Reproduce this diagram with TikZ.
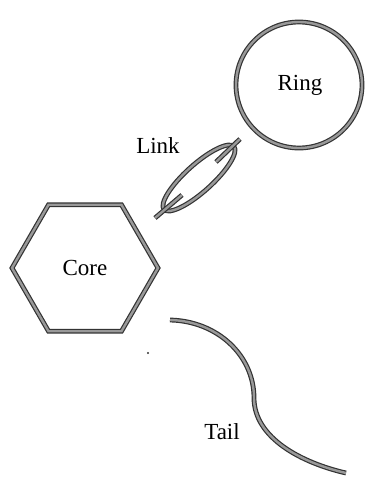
\documentclass[tikz,border=0pt]{standalone}
\usepackage{fontspec}
\setmainfont{Liberation Serif}
\usetikzlibrary{shapes.geometric}
\begin{document}
\begin{tikzpicture}[x=1pt,y=-1pt,
  stroke/.style={draw=black!80, double=gray!80, double distance=2.4pt, line width=1.2pt},
  lbl/.style={font=\fontsize{23}{26}\selectfont, inner sep=0pt}]
\useasboundingbox (0,0) rectangle (382,491);
% Core hexagon
\node[regular polygon, regular polygon sides=6, minimum size=146pt, inner sep=0pt, stroke] (core) at (85,268) {};
\node[lbl] (coretxt) at (85,268) {Core};
% Ring
\node[circle, minimum size=126pt, inner sep=0pt, stroke] (ring) at (299,85) {};
\node[lbl] (ringtxt) at (300,85) {Ring};
% Link ellipse
\node[ellipse, minimum width=94pt, minimum height=27pt, inner sep=0pt, rotate=42, stroke] (link) at (199,178) {};
\node[lbl] (linktxt) at (158,146) {Link};
\coordinate (l1) at (155,218);
\coordinate (l2) at (182,195);
\coordinate (l3) at (216,162);
\coordinate (l4) at (240,139);
\draw[stroke] (l1) -- (l2);
\draw[stroke] (l4) -- (l3);
% Tail
\coordinate (t1) at (170,320);
\coordinate (t2) at (254,398);
\coordinate (t3) at (346,473);
\draw[stroke] (t1) .. controls (217,321) and (254,355) .. (t2) .. controls (254,438) and (302,463) .. (t3);
\node[lbl] (tailtxt) at (222,432) {Tail};
% speck
\fill[black!80] (148,353) circle (1.2pt);
\end{tikzpicture}
\end{document}
